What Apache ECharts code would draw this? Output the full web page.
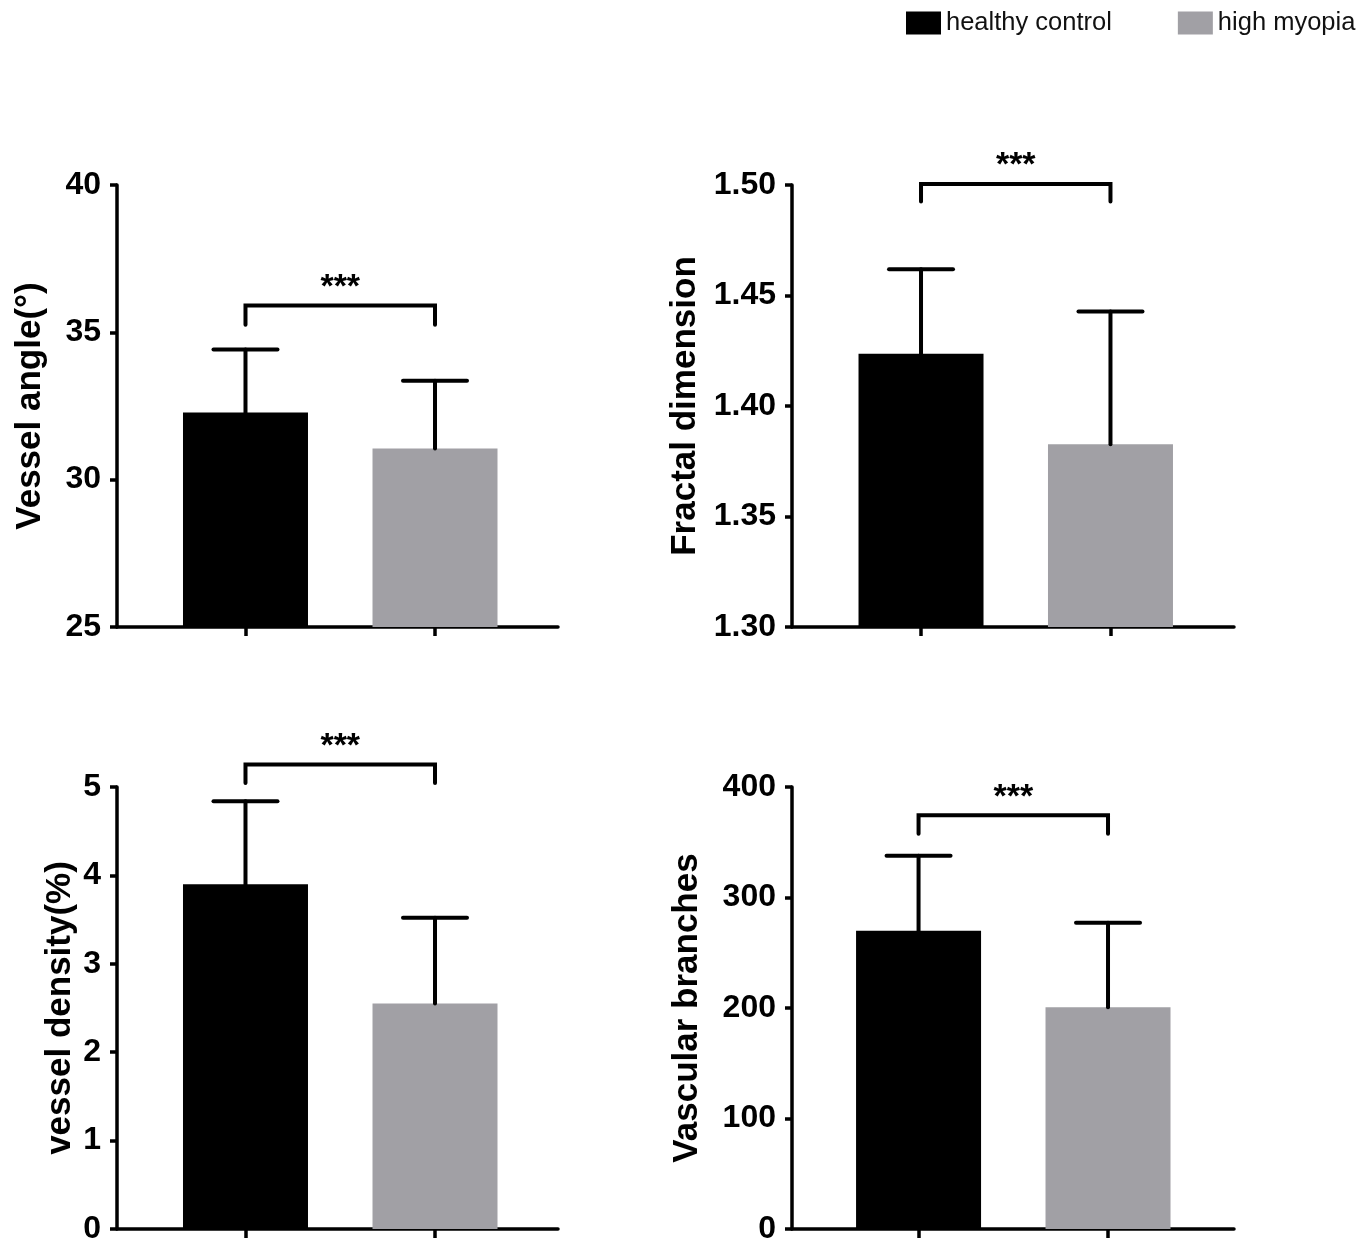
<!DOCTYPE html>
<html>
<head>
<meta charset="utf-8">
<script src="https://cdn.jsdelivr.net/npm/echarts@6/dist/echarts.min.js"></script>
<style>
  html, body { margin: 0; padding: 0; background: #fff; }
  #chart { width: 1360px; height: 1248px; }
</style>
</head>
<body>
<div id="chart"></div>
<script>
// groups shown in every panel
const groupNames = ['healthy control', 'high myopia'];
const groupColors = ['#000000', '#a1a0a5'];

// mean and upper SD
const angleMean = [32.28, 31.06];
const angleSd = [2.14, 2.30];
const fractalMean = [1.4236, 1.3827];
const fractalSd = [0.0383, 0.0601];
const densityMean = [3.90, 2.55];
const densitySd = [0.94, 0.97];
const branchMean = [269.9, 200.6];
const branchSd = [67.8, 76.5];

// y axis ranges and titles
const yMins = [25, 1.30, 0, 0];
const yMaxs = [40, 1.50, 5, 400];
const yIntervals = [5, 0.05, 1, 100];
const yTitles = ['Vessel angle(°)', 'Fractal dimension', 'vessel density(%)', 'Vascular branches'];

// significance brackets: [bar level, leg end]
const bracketLevels = [[35.91, 35.26], [1.5005, 1.4925], [5.255, 5.046], [374.4, 357.8]];
const sigLabels = ['***', '***', '***', '***'];

const panels = [
	{mean: angleMean, sd: angleSd},
	{mean: fractalMean, sd: fractalSd},
	{mean: densityMean, sd: densitySd},
	{mean: branchMean, sd: branchSd}
];

const FONT = '"Liberation Sans", Arial, Helvetica, sans-serif';
const grids = [
	{left: 117, top: 185, width: 441, height: 442},
	{left: 792, top: 185, width: 442, height: 442},
	{left: 117, top: 787, width: 441, height: 442},
	{left: 792, top: 787, width: 442, height: 442}
];
const xMins = [-0.678, -0.681, -0.678, -0.668];
const xMaxs = [1.649, 1.652, 1.649, 1.665];
const nameGaps = [69, 89, 39, 87];

var chart = echarts.init(document.getElementById('chart'));

const xAxis = [];
const yAxis = [];
const series = [];

panels.forEach((p, i) => {
	xAxis.push({
		type: 'value',
		gridIndex: i,
		min: xMins[i],
		max: xMaxs[i],
		axisLine: {show: true, onZero: false, lineStyle: {color: '#000', width: 3.5}},
		axisTick: {show: true, customValues: [0, 1], length: 9, lineStyle: {color: '#000', width: 3.5}},
		axisLabel: {show: false},
		splitLine: {show: false}
	});
	yAxis.push({
		type: 'value',
		gridIndex: i,
		min: yMins[i],
		max: yMaxs[i],
		interval: yIntervals[i],
		name: yTitles[i],
		nameLocation: 'middle',
		nameGap: nameGaps[i],
		nameTextStyle: {fontFamily: FONT, fontSize: 35, fontWeight: 'bold', color: '#000'},
		axisLine: {show: true, onZero: false, lineStyle: {color: '#000', width: 3.5}},
		axisTick: {show: true, length: 7, lineStyle: {color: '#000', width: 3.5}},
		axisLabel: {
			fontFamily: FONT, fontSize: 32, fontWeight: 'bold', color: '#000', margin: 16,
			formatter: (v) => i === 1 ? v.toFixed(2) : String(Math.round(v))
		},
		splitLine: {show: false}
	});

	groupNames.forEach((name, g) => {
		series.push({
			name: name,
			type: 'bar',
			xAxisIndex: i,
			yAxisIndex: i,
			barWidth: 125,
			barGap: '-100%',
			itemStyle: {color: groupColors[g]},
			data: [[g, p.mean[g]]]
		});
	});

	// error bars (upper SD only)
	series.push({
		type: 'custom',
		xAxisIndex: i,
		yAxisIndex: i,
		z: 5,
		silent: true,
		data: p.mean.map((m, g) => [g, m, m + p.sd[g]]),
		renderItem: (params, api) => {
			const base = api.coord([api.value(0), api.value(1)]);
			const top = api.coord([api.value(0), api.value(2)]);
			const st = {stroke: '#000', lineWidth: 4, lineCap: 'round'};
			return {
				type: 'group',
				children: [
					{type: 'line', shape: {x1: base[0], y1: base[1], x2: top[0], y2: top[1]}, style: st},
					{type: 'line', shape: {x1: top[0] - 32, y1: top[1], x2: top[0] + 32, y2: top[1]}, style: st}
				]
			};
		}
	});

	// significance bracket
	series.push({
		type: 'custom',
		xAxisIndex: i,
		yAxisIndex: i,
		z: 5,
		silent: true,
		clip: false,
		data: [[0, 1, bracketLevels[i][0], bracketLevels[i][1]]],
		renderItem: (params, api) => {
			const a = api.coord([api.value(0), api.value(2)]);
			const b = api.coord([api.value(1), api.value(2)]);
			const legY = api.coord([0, api.value(3)])[1];
			const st = {stroke: '#000', lineWidth: 4, fill: null, lineCap: 'round', lineJoin: 'miter'};
			return {
				type: 'group',
				children: [
					{type: 'polyline', shape: {points: [[a[0], legY], a, b, [b[0], legY]]}, style: st},
					{
						type: 'text',
						style: {
							text: sigLabels[i], x: (a[0] + b[0]) / 2, y: a[1] - 18,
							align: 'center', verticalAlign: 'middle',
							font: 'bold 34px ' + FONT, fill: '#000'
						}
					}
				]
			};
		}
	});
});

const option = {
	animation: false,
	backgroundColor: '#fff',
	legend: {
		data: groupNames,
		left: 906,
		top: 10,
		padding: 0,
		icon: 'rect',
		itemWidth: 35,
		itemHeight: 23,
		itemGap: 66,
		textStyle: {fontFamily: FONT, fontSize: 25.5, color: '#111'}
	},
	grid: grids,
	xAxis: xAxis,
	yAxis: yAxis,
	series: series
};
option && chart.setOption(option);
</script>
</body>
</html>
